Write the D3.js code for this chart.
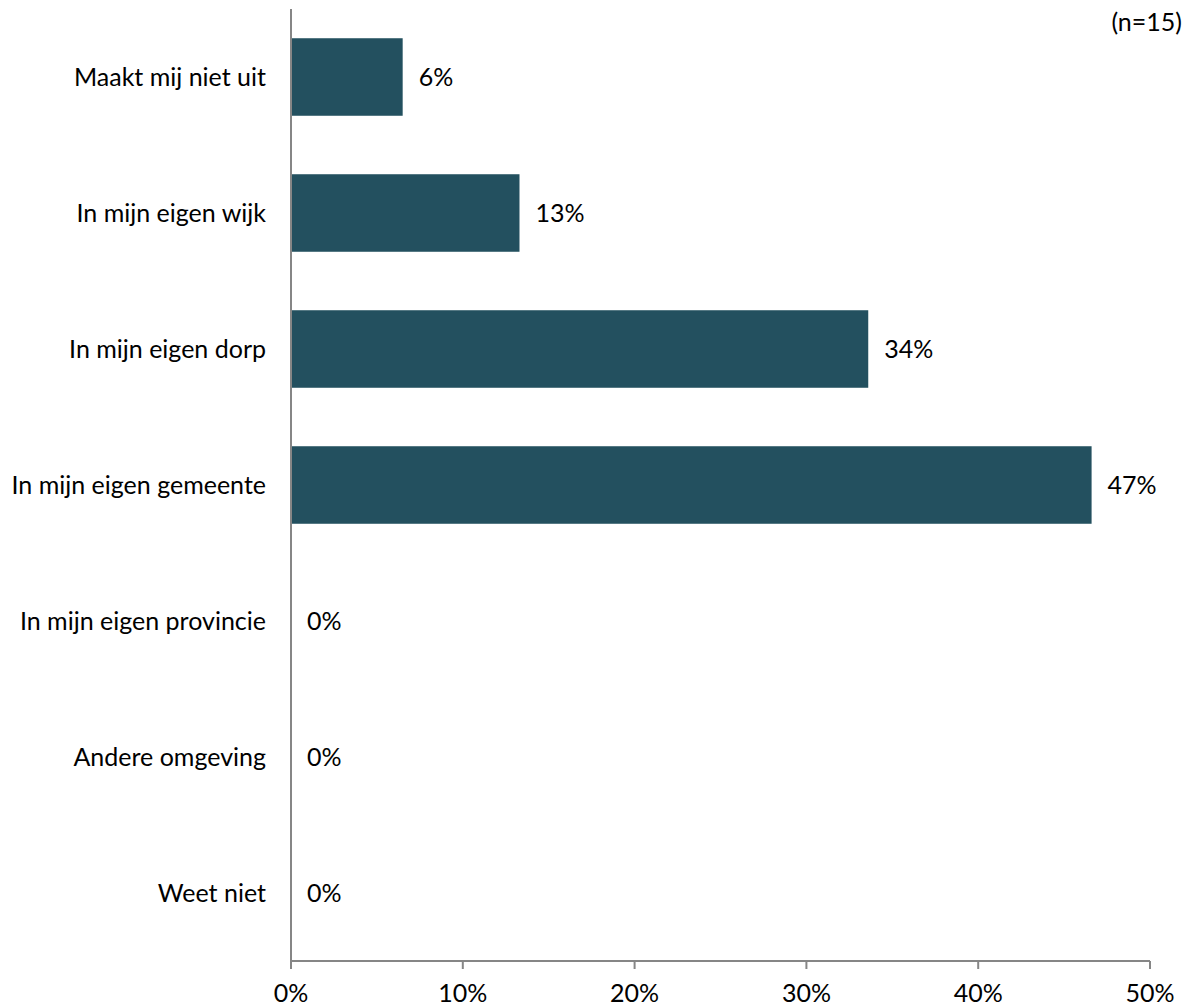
<!DOCTYPE html>
<html><head><meta charset="utf-8">
<script src="https://cdn.jsdelivr.net/npm/d3@7"></script>
<style>body{margin:0;background:#fff;} svg{display:block;} text{font-family:Lato,"Open Sans",sans-serif;fill:#000;}</style>
</head><body>
<svg id="c" width="1192" height="1007"></svg>
<script>
const categories = ["Maakt mij niet uit","In mijn eigen wijk","In mijn eigen dorp","In mijn eigen gemeente","In mijn eigen provincie","Andere omgeving","Weet niet"];
const values = [6.5, 13.3, 33.6, 46.6, 0, 0, 0];
const valueLabels = ["6%","13%","34%","47%","0%","0%","0%"];
const ticks = [0,10,20,30,40,50];
const tickLabels = ["0%","10%","20%","30%","40%","50%"];
const note = "(n=15)";

const svg = d3.select("#c");
const x = d3.scaleLinear().domain([0,50]).range([291,1150]);
const y = d3.scaleBand().domain(categories).range([9,961]).paddingInner(0.43).paddingOuter(0.215);
const fs = 25;
const axisColor = "#868686";
const barColor = "#23505F";

svg.selectAll("rect.bar").data(categories).join("rect")
  .attr("x", x(0)).attr("y", d=>y(d))
  .attr("width", (d,i)=>x(values[i])-x(0)).attr("height", y.bandwidth())
  .attr("fill", barColor);

svg.selectAll("text.val").data(categories).join("text")
  .attr("x", (d,i)=>x(values[i])+16).attr("y", d=>y(d)+y.bandwidth()/2)
  .attr("dy","0.35em").attr("font-size",fs).text((d,i)=>valueLabels[i]);

svg.selectAll("text.cat").data(categories).join("text")
  .attr("x", 266).attr("y", d=>y(d)+y.bandwidth()/2)
  .attr("dy","0.35em").attr("text-anchor","end").attr("font-size",fs).text(d=>d);

// axes
svg.append("line").attr("x1",x(0)).attr("x2",x(0)).attr("y1",9).attr("y2",969).attr("stroke",axisColor).attr("stroke-width",2);
svg.append("line").attr("x1",x(0)).attr("x2",x(50)).attr("y1",961).attr("y2",961).attr("stroke",axisColor).attr("stroke-width",2);
svg.selectAll("line.tick").data(ticks).join("line")
  .attr("x1",d=>x(d)).attr("x2",d=>x(d)).attr("y1",961).attr("y2",969).attr("stroke",axisColor).attr("stroke-width",2);
svg.selectAll("text.tick").data(ticks).join("text")
  .attr("x",d=>x(d)).attr("y",993).attr("dy","0.35em").attr("text-anchor","middle").attr("font-size",fs)
  .text((d,i)=>tickLabels[i]);

svg.append("text").attr("x",1182).attr("y",22).attr("dy","0.35em").attr("text-anchor","end").attr("font-size",fs).text(note);
</script>
</body></html>
